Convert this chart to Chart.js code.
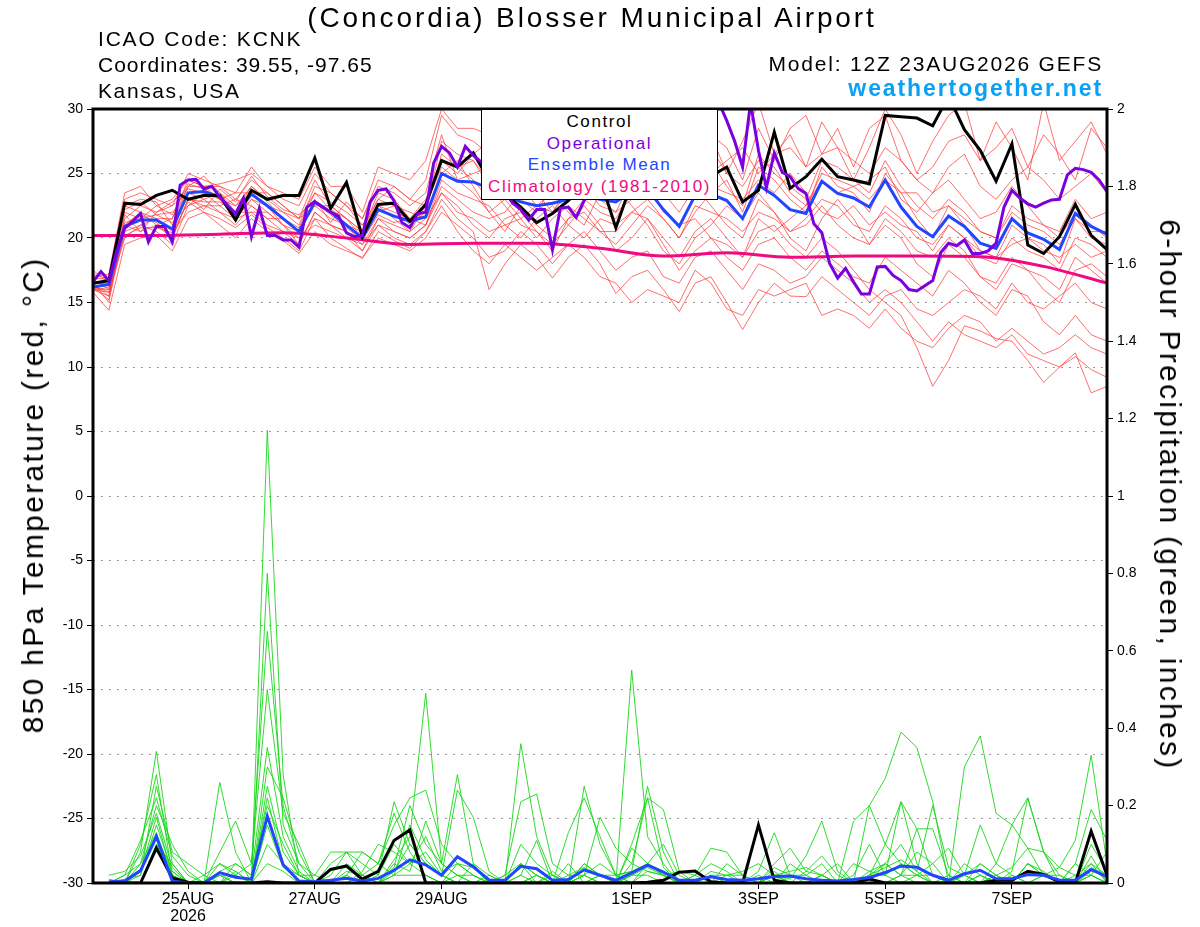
<!DOCTYPE html>
<html>
<head>
<meta charset="utf-8">
<title>KCNK GEFS 850 hPa temperature and precipitation</title>
<script src="https://cdn.jsdelivr.net/npm/chart.js"></script>
<style>
  html, body { margin: 0; padding: 0; background: #fff; }
  #wrap { position: relative; width: 1200px; height: 927px; font-family: "Liberation Sans", Arial, Helvetica, sans-serif; }
  #wrap canvas { position: absolute; left: 0; top: 0; }
  .t { position: absolute; white-space: nowrap; color: #000; }
  #title { left: 0; width: 1184px; text-align: center; top: 4px; font-size: 28px; line-height: 28px; letter-spacing: 2.9px; }
  .info { left: 98px; font-size: 21px; line-height: 21px; }
  .right { right: 97px; text-align: right; }
  #site { font-size: 23px; line-height: 23px; font-weight: bold; color: #0aa0f5; letter-spacing: 1.9px; }
  .axt { font-size: 30px; line-height: 30px; letter-spacing: 2.3px; transform: translate(-50%, -50%) rotate(-90deg); }
  #ytitle2 { transform: translate(-50%, -50%) rotate(90deg); }
  #legend { position: absolute; left: 481px; top: 109px; width: 235px; height: 88px; border: 1px solid #000;
            background: #fff; text-align: center; font-size: 17px; line-height: 21.5px; padding-top: 1px; letter-spacing: 1.6px; }
</style>
</head>
<body>
<div id="wrap">
  <canvas id="chart"></canvas>
  <div class="t" id="title">(Concordia) Blosser Municipal Airport</div>
  <div class="t info" style="top:28px; letter-spacing:1.8px">ICAO Code: KCNK</div>
  <div class="t info" style="top:54px; letter-spacing:1.0px">Coordinates: 39.55, -97.65</div>
  <div class="t info" style="top:80px; letter-spacing:1.6px">Kansas, USA</div>
  <div class="t info right" style="top:53px; left:auto; letter-spacing:1.8px">Model: 12Z 23AUG2026 GEFS</div>
  <div class="t right" id="site" style="top:77px">weathertogether.net</div>
  <div class="t axt" style="left:33px; top:495px">850 hPa Temperature (red, °C)</div>
  <div class="t axt" id="ytitle2" style="left:1170px; top:495px">6-hour Precipitation (green, inches)</div>
  <div id="legend">
    <div style="color:#000">Control</div>
    <div style="color:#7a00dd">Operational</div>
    <div style="color:#2046ff">Ensemble Mean</div>
    <div style="color:#ef0a80">Climatology (1981-2010)</div>
  </div>
</div>

<script>
/* ---------- TIME AXIS ---------- */
// hours after 12Z 23AUG2026
const tickHours = [36, 84, 132, 204, 252, 300, 348];
const tickText = [["25AUG", "2026"], "27AUG", "29AUG", "1SEP", "3SEP", "5SEP", "7SEP"];

/* ---------- 850 hPa TEMPERATURE (6-hourly from hour 0) ---------- */
const tempControl = [16.5,16.7,22.7,22.6,23.3,23.7,23.0,23.3, 23.3,21.4,23.7,23.0,23.3,23.3,26.2,22.3, 24.3,20.1,22.6,22.7,21.3,22.6,26.0,25.5, 26.6,24.5,23.4,22.4,21.2,21.9,22.9,24.2, 24.6,20.8,24.3,25.0,25.2,24.6,24.2,24.8, 25.5,22.8,23.7,28.2,23.85,24.75,26.1,24.75, 24.5,24.2,29.5,29.4,29.3,28.7,31.0,28.4, 26.8,24.4,27.3,19.45,18.8,20.1,22.6,20.2, 19.1];
const tempMean = [16.2,16.4,20.9,21.4,21.4,20.7,23.5,23.6, 23.2,21.8,23.4,22.5,21.5,20.5,22.8,22.0, 21.0,20.0,22.2,21.7,21.3,21.65,25.0,24.4, 24.35,23.85,23.3,22.8,22.5,22.7,23.0,23.3, 23.0,22.8,23.6,23.8,22.2,20.9,23.3,23.4, 22.9,21.5,24.1,23.3,22.2,21.9,24.4,23.45, 23.1,22.4,24.5,22.4,20.9,20.1,21.7,20.9, 19.6,19.2,21.5,20.4,19.9,19.1,21.9,20.9, 20.3];
// operational run is 3-hourly
const tempOper = [16.6,17.4,16.7,19.0,20.75,21.3,21.9,19.7, 20.9,20.9,19.7,24.1,24.5,24.55,23.8,24.0, 23.2,22.5,21.9,23.1,20.1,22.3,20.2,20.2, 19.85,19.85,19.3,22.4,22.8,22.4,22.0,21.7, 20.4,20.1,20.2,22.8,23.7,23.8,22.9,21.2, 20.8,21.9,22.0,25.8,27.1,26.6,25.5,27.1, 26.4,25.9,25.5,24.5,23.5,22.7,22.2,21.4, 22.2,22.2,19.1,22.3,22.4,21.6,22.9,23.8, 24.5,24.2,23.8,24.6,25.2,25.8,26.3,26.0, 26.8,27.5,28.0,28.8,30.3,29.6,30.4,30.5, 29.1,27.5,25.5,30.5,26.8,23.9,26.6,25.1, 24.75,23.85,23.45,21.1,20.4,18.0,16.9,17.65, 16.6,15.65,15.65,17.75,17.8,17.1,16.7,16.0, 15.9,16.3,16.7,18.85,19.6,19.4,19.85,18.8, 18.8,19.0,19.6,22.4,23.7,23.1,22.65,22.4, 22.7,22.95,23.0,24.9,25.4,25.3,25.1,24.5, 23.6];
// climatology read once a day
const climTemp = [20.2,20.2,20.3,20.4,20.0,19.5,19.6,19.6,19.2,18.6,18.85,18.5,18.6,18.6,18.55,17.8,16.5];

const ens01 = [16.8,16.0,22.0,21.5,22.5,21.8,24.2,23.8, 23.0,22.5,24.0,22.8,21.5,20.8,23.5,22.2, 21.5,20.5,23.0,22.5,21.0,22.0,26.5,25.5, 26.0,24.0,22.5,21.0,20.5,19.0,21.5,22.0, 20.5,19.5,21.0,22.5,21.5,20.0,22.0,23.5, 24.5,22.0,25.5,24.5,23.0,22.0,25.5,24.0, 23.5,22.0,25.0,23.5,21.5,20.0,22.5,21.0, 19.0,18.5,21.0,20.0,19.5,18.0,21.5,20.0, 19.5];
const ens02 = [16.2,15.2,20.5,21.0,20.5,19.5,22.5,23.0, 22.0,21.0,22.5,21.5,20.5,19.5,22.0,21.0, 20.0,19.0,21.0,20.5,20.0,21.0,24.0,23.0, 22.0,21.5,22.0,23.5,24.5,23.0,24.0,25.5, 24.0,23.5,25.0,26.5,24.5,23.0,25.5,26.0, 24.0,22.5,26.5,25.0,24.0,23.0,26.0,25.5, 24.5,23.5,26.0,24.0,22.5,21.5,23.0,22.0, 20.5,20.0,22.5,21.5,21.0,20.0,22.0,21.0, 20.0];
const ens03 = [15.8,14.4,19.5,20.0,20.2,19.0,21.5,22.0, 21.0,20.0,21.5,20.5,19.8,18.8,20.5,19.5, 19.0,18.5,20.0,19.5,19.0,20.0,22.0,21.0, 20.0,18.5,19.0,20.5,19.5,18.0,19.5,20.5, 19.0,17.5,18.5,19.0,17.0,16.5,18.5,19.0, 17.5,16.0,18.0,17.5,16.5,17.0,18.5,17.5, 16.5,15.0,16.0,15.0,13.5,12.0,13.5,12.5, 12.0,11.5,12.5,11.0,10.5,10.0,10.8,9.8, 9.2];
const ens04 = [16.0,15.5,21.0,20.5,21.0,20.0,23.0,22.5, 22.5,21.5,23.0,22.0,21.0,20.0,21.5,21.0, 20.5,19.5,21.5,21.0,20.5,21.5,23.5,22.5, 21.0,20.0,21.5,22.0,20.5,19.5,21.0,22.5, 21.0,19.0,20.0,21.5,20.0,18.5,20.5,21.5, 20.0,18.5,20.5,21.0,19.5,18.5,20.0,19.0, 17.5,16.0,15.0,14.0,11.5,8.5,10.5,13.2, 12.8,12.2,12.0,10.5,8.8,10.0,11.1,8.0, 8.5];
const ens05 = [17.2,16.8,23.0,23.5,23.0,22.5,25.0,24.5, 24.0,23.5,25.5,24.0,23.0,22.5,25.0,23.5, 22.5,21.5,24.5,24.0,23.0,24.5,29.5,28.0, 27.5,26.5,25.5,26.5,27.0,25.5,26.5,27.5, 26.0,25.0,26.0,27.0,28.0,27.5,29.5,28.0, 27.0,24.5,28.5,26.0,28.5,29.5,26.5,28.5, 25.5,28.5,29.5,26.0,24.5,25.5,27.5,28.0, 26.0,27.0,28.5,25.5,28.0,26.5,24.5,28.5, 27.0];
const ens06 = [16.5,16.5,22.5,22.0,21.0,21.5,24.0,24.8, 23.5,22.0,24.0,23.0,22.0,21.0,24.0,23.5, 22.5,21.0,22.5,21.5,20.5,22.5,25.5,24.5, 25.0,25.5,24.0,23.0,22.0,24.0,25.0,24.0, 22.5,22.0,24.5,25.0,23.5,22.0,24.0,22.5, 21.0,20.0,23.0,22.0,20.5,21.5,23.0,22.5, 21.0,20.5,22.5,21.5,20.0,19.5,21.0,20.0, 18.5,18.0,20.0,19.0,18.5,17.5,20.0,19.5, 18.5];
const ens07 = [16.3,15.8,20.0,21.0,21.5,20.5,22.0,22.5, 22.0,21.5,22.0,21.0,20.5,20.0,21.0,20.5, 20.0,19.5,21.0,20.0,19.5,20.5,23.0,21.5, 20.5,16.0,18.0,19.5,18.5,16.9,18.5,19.5, 18.0,15.7,17.0,17.5,16.0,14.3,16.5,17.0, 15.0,12.9,15.0,16.5,15.5,15.45,17.0,16.0, 15.0,14.0,15.5,16.0,14.5,14.0,15.0,16.0, 15.5,14.5,16.5,15.0,14.5,15.5,16.5,15.0, 14.5];
const ens08 = [17.0,17.2,23.5,24.0,22.5,23.0,24.5,24.0, 24.2,24.5,25.0,24.0,23.5,23.0,25.5,24.0, 24.0,22.0,25.5,25.0,24.5,26.0,30.0,28.5, 28.5,28.0,27.0,30.0,27.0,26.0,27.0,28.0, 25.5,24.5,25.5,26.5,27.5,29.0,30.0,28.0, 25.0,27.5,30.5,26.5,28.0,25.5,29.0,27.0, 24.5,27.0,30.0,28.0,25.0,27.5,29.5,30.5, 26.0,29.0,27.0,24.5,30.5,26.0,27.5,29.0, 26.5];
const ens09 = [15.9,16.2,21.5,22.5,22.0,22.5,23.5,23.0, 23.5,22.5,23.5,23.5,22.5,21.5,22.5,22.5, 21.5,20.0,22.0,22.5,22.0,21.5,25.0,26.0, 24.0,22.0,23.0,21.5,22.5,23.5,22.0,21.0, 23.5,24.0,22.5,21.0,19.0,18.0,20.0,21.0, 22.5,21.5,23.5,22.0,20.0,19.0,21.5,23.0, 21.5,19.5,21.0,20.0,18.0,17.0,19.5,18.5, 17.0,16.5,18.5,17.5,16.0,15.0,17.5,18.0, 17.0];
const ens10 = [16.6,15.0,21.8,20.5,22.0,22.8,23.8,23.5, 22.5,23.0,22.5,21.5,21.5,20.5,22.5,21.5, 21.0,20.5,23.5,23.0,21.5,22.0,27.5,26.5, 26.0,24.5,26.5,25.0,23.5,22.0,23.5,24.5, 23.0,22.0,23.0,24.0,22.0,21.0,21.5,20.0, 19.5,18.5,21.5,20.5,21.5,22.5,24.5,23.5, 24.0,24.5,25.5,23.0,22.0,23.5,24.5,23.0, 21.5,22.0,24.0,22.5,21.0,20.5,23.0,21.5, 22.0];
const ens11 = [17.5,16.5,22.5,23.0,22.8,21.0,24.0,24.0, 24.0,23.0,24.5,23.5,22.5,21.5,23.5,22.8, 22.0,21.0,23.0,24.0,23.0,22.5,26.0,25.0, 26.5,27.5,25.0,24.0,25.5,26.0,24.5,25.0, 27.0,26.0,25.0,24.0,25.5,26.5,24.5,25.0, 26.0,27.0,25.0,26.5,27.0,25.5,26.5,27.0, 26.0,25.0,27.0,26.0,24.5,23.5,25.5,26.5, 24.0,23.0,24.5,25.5,24.5,23.0,24.0,25.0, 23.5];
const ens12 = [16.4,15.5,20.8,21.8,21.2,20.0,23.0,22.8, 22.8,22.0,22.0,22.0,21.0,19.5,22.0,21.0, 20.5,19.0,21.5,20.5,20.0,21.0,23.5,22.0, 21.5,20.5,21.0,21.5,20.0,21.5,22.5,21.5, 20.5,20.5,22.0,21.5,19.5,17.5,19.0,20.0, 18.5,17.5,19.5,20.0,18.5,17.5,19.0,18.0, 17.0,16.5,18.5,17.5,16.5,15.5,17.5,16.5, 15.0,14.0,16.0,15.5,13.5,12.5,14.0,12.5, 12.0];
const ens13 = [16.9,16.8,21.0,22.0,21.5,21.5,24.5,24.0, 23.0,23.5,23.5,22.5,22.0,21.5,24.5,22.5, 21.5,20.5,22.5,22.0,21.5,23.0,26.0,25.5, 24.5,23.0,24.5,24.0,22.5,22.0,24.0,23.5, 24.5,25.0,26.5,25.5,24.0,23.5,26.0,27.0, 25.0,24.0,26.0,25.5,23.5,22.5,25.0,24.5, 24.0,23.0,24.5,23.5,23.5,22.0,22.5,21.5, 20.5,20.0,22.0,21.0,20.5,19.5,21.5,20.5, 20.5];
const ens14 = [16.0,15.8,21.2,21.5,21.8,21.2,22.5,23.5, 23.0,21.5,23.0,22.5,21.0,20.5,22.8,21.8, 20.8,19.8,21.8,21.2,21.5,21.0,24.5,23.5, 23.0,22.5,21.0,20.0,21.5,22.5,21.0,20.0, 21.5,21.0,22.0,23.0,21.5,20.0,22.5,22.0, 21.5,20.5,22.0,21.5,20.5,21.0,22.5,21.0, 20.0,19.5,21.5,20.5,19.0,18.5,20.0,19.0, 17.0,16.0,18.0,17.5,17.0,16.0,18.5,17.5, 16.5];
const ens15 = [16.7,16.3,22.2,22.8,21.8,22.0,23.2,22.2, 23.8,22.8,24.8,23.2,22.2,21.8,23.0,21.2, 22.8,21.5,24.0,23.5,22.5,23.5,28.0,24.5, 23.5,22.0,20.5,22.5,21.0,20.0,21.5,23.0, 22.0,21.5,23.5,24.5,23.0,24.0,25.0,24.0, 23.5,23.0,24.5,23.5,25.0,23.5,22.0,21.5, 22.5,21.0,22.0,21.0,20.5,19.0,21.0,20.0, 19.0,18.5,19.5,20.0,19.0,18.5,19.5,18.5, 19.0];
const ens16 = [16.1,16.0,20.2,20.8,20.8,20.4,22.8,22.0, 21.5,20.8,21.8,20.8,20.0,19.0,21.5,20.0, 19.2,18.4,20.5,19.8,19.2,20.5,22.5,20.5, 19.0,18.0,19.5,18.5,17.5,18.5,19.5,18.5, 17.0,16.5,15.0,16.0,15.5,15.0,17.5,16.5, 14.5,14.0,16.0,15.5,16.0,16.5,14.0,14.5, 14.0,13.0,14.5,13.0,12.0,11.5,13.0,14.0, 13.5,12.0,13.0,12.0,11.0,11.5,12.5,11.5, 11.0];

/* ---------- 6-HOUR PRECIPITATION (6-hourly from hour 6) ---------- */
const precipControl = [0,0,0,.09,.013,.002,0,0, 0,0,.003,0,0,0,.035,.044, .01,.03,.11,.137,0,0,0,0, 0,0,0,0,0,0,0,0, 0,0,.002,.007,.028,.031,.003,0, 0,.15,.007,0,0,0,0,0, .01,0,0,0,0,0,0,0, .007,.007,.03,.022,.003,0,.134,.02];
const precipMean = [.003,.005,.032,.12,.005,0,0,.027, .015,.01,.173,.047,.005,.003,.007,.012, .005,.012,.033,.06,.047,.02,.068,.042, .008,.007,.043,.037,.007,.009,.034,.02, .007,.026,.046,.028,.007,.007,.016,.009, .007,.011,.017,.018,.011,.007,.005,.009, .014,.027,.044,.041,.02,.007,.024,.033, .011,.011,.022,.02,.007,.007,.035,.016];

const pcp01 = [0,0,.08,.34,.05,0,0,.02, 0,0,1.17,.28,.02,0,0,.05, .02,0,.06,.12,.49,.05,.02,0, 0,0,.05,.02,0,0,.05,.02, 0,.55,.12,.05,0,0,.02,0, 0,0,.03,0,0,.02,0,0, .2,.27,.39,.35,.21,0,0,.02, 0,0,.05,.02,0,0,.1,.03];
const pcp02 = [.01,0,.1,.28,.02,0,0,.26, .08,0,.8,.15,.05,0,.02,.08, .05,.02,.21,.1,.05,.02,.24,.17, .03,0,.36,.12,.02,0,.25,.1, .02,.03,.25,.08,0,.02,.09,.08, .02,0,.02,.01,.07,.16,.03,0, 0,.05,.02,0,0,0,.3,.38, .18,.15,.22,.08,0,.05,.19,.11];
const pcp03 = [0,.02,.11,.22,.07,.02,0,.08, .16,.05,.65,.2,.05,.02,0,.02, .08,.05,.15,.22,.24,.1,.05,.02, 0,.02,.21,.23,.05,.02,.02,.17, .09,.05,.22,.19,.03,0,.02,.02, 0,.03,.13,.02,0,.02,0,.16, .2,.1,.21,.14,.02,0,.05,.02, 0,.03,.22,.08,.04,.11,.33,.05];
const pcp04 = [0,0,.05,.2,.1,.03,0,0, .05,.02,.2,.1,.02,0,0,0, .03,.1,.08,.05,.02,0,.05,.02, 0,0,0,.02,0,.13,.22,.12, .02,0,.05,.03,0,0,0,.05, .02,0,0,.05,.02,0,0,.02, .1,.02,0,.02,.05,.09,.02,.15, .05,.02,0,.02,0,0,.07,0];
const pcp05 = [.02,.03,.07,.18,.04,0,.02,.05, .03,0,.25,.08,.02,0,.05,.08, .02,0,.02,.15,.06,.02,0,.05, .02,0,.02,.11,0,.02,.04,.02, 0,.09,.05,.02,.03,.02,0,.02, .03,.05,.02,0,.03,.07,.02,0, .02,.04,.06,.03,.2,.04,.02,0, .05,.15,.09,.02,0,.05,.02,.08];
const pcp06 = [0,0,.03,.17,.02,0,0,.03, .05,.02,.35,.12,.03,0,0,.02, 0,.02,.1,.05,.12,.03,.05,.04, 0,0,.02,0,.02,0,.02,0, 0,.02,.04,.02,0,.02,.05,.03, 0,0,.05,.09,.03,.02,0,.05, .03,.02,.21,.05,0,0,.02,.05, .02,.04,.09,.08,.02,0,.05,.02];
const pcp07 = [0,.01,.02,.25,.08,.05,.02,0, 0,0,.3,.22,.08,0,0,0, 0,0,.04,.2,.1,.05,.28,.05, 0,0,.05,.02,0,.05,0,.02, 0,.1,.22,.04,0,0,0,0, 0,.02,0,0,0,.02,.05,0, 0,0,.02,.14,.14,.02,0,.02, 0,.02,0,0,0,.02,.02,0];
const pcp08 = [0,0,.02,.15,.03,0,0,0, .02,.05,.5,.18,.1,0,0,.03, .02,.05,.18,.08,.02,0,.02,0, 0,.02,.05,0,0,0,.02,.05, .02,0,.03,.02,0,0,.02,0, 0,0,.02,.03,.04,.02,0,0, .02,.1,.05,.02,0,0,.02,0, .02,0,.05,.03,0,0,.04,.02];
const pcp09 = [0,0,0,.1,.02,0,0,.02, 0,0,.22,.05,.02,0,0,0, 0,0,.03,.1,.05,.02,0,0, 0,0,0,0,0,0,.02,0, 0,.05,.03,.02,0,0,0,0, 0,0,0,0,0,0,0,0, .02,.05,.1,.03,0,0,0,0, 0,0,0,0,0,0,.02,0];
const pcp10 = [0,.02,.05,.13,.02,0,0,.02, .02,0,.15,.04,.02,.02,.08,.08, .08,.05,.02,.05,.08,.02,0,0, .02,0,0,.02,0,0,0,.02, 0,.02,.05,.02,0,0,0,0, 0,0,.02,0,0,0,0,0, .02,.02,.05,.02,0,.02,0,0, .02,0,0,.02,.02,0,.03,.02];
const pcp11 = [0,0,.03,.12,.03,0,0,.05, .02,0,.1,.05,0,0,0,0, .02,0,.05,.03,.16,.05,.02,.02, 0,0,.1,.05,.02,0,.05,.02, .02,.03,.05,.1,.02,0,.03,.02, .02,0,.04,.02,.02,.05,0,0, .03,.05,.02,.08,.05,0,0,.05, .02,0,.05,.02,.04,.02,.05,0];
const pcp12 = [0,0,0,.1,.05,0,0,0, .03,0,.05,.03,0,0,0,0, 0,0,.02,.02,.02,0,0,0, 0,0,0,0,.03,0,0,0, 0,.02,.02,0,0,0,0,0, 0,0,.02,0,0,0,0,0, 0,0,.02,.02,.02,0,0,0, 0,0,0,0,0,0,.02,0];

const tempMembers = [ens01, ens02, ens03, ens04, ens05, ens06, ens07, ens08, ens09, ens10, ens11, ens12, ens13, ens14, ens15, ens16];
const precipMembers = [pcp01, pcp02, pcp03, pcp04, pcp05, pcp06, pcp07, pcp08, pcp09, pcp10, pcp11, pcp12];

const RED = "rgba(255,55,55,0.72)";
const GREEN = "rgba(25,215,25,0.9)";
const PINK = "#ef0a80";
const BLUE = "#2046ff";
const PURPLE = "#7a00dd";

/* ---------- BUILD ---------- */
// pair each value with its forecast hour
function xy(vals, startHour, stepHours) {
  return vals.map((v, i) => ({ x: startHour + i * stepHours, y: v }));
}

function line(data, axis, color, width, order) {
  return { data, yAxisID: axis, borderColor: color, borderWidth: width, pointRadius: 0, fill: false, tension: 0, order };
}

const datasets = [];
tempMembers.forEach(m => datasets.push(line(xy(m, 0, 6), "y", RED, 1, 6)));
precipMembers.forEach(m => datasets.push(line(xy(m, 6, 6), "y2", GREEN, 1, 5)));

const clim = line(xy(climTemp, 0, 24), "y", PINK, 3, 4);
clim.cubicInterpolationMode = "monotone";
datasets.push(clim);

datasets.push(line(xy(precipMean, 6, 6), "y2", BLUE, 3, 3));
datasets.push(line(xy(precipControl, 6, 6), "y2", "#000", 3, 3));
datasets.push(line(xy(tempMean, 0, 6), "y", BLUE, 3, 2));
datasets.push(line(xy(tempControl, 0, 6), "y", "#000", 3, 1));
datasets.push(line(xy(tempOper, 0, 3), "y", PURPLE, 3, 0));

// black frame round the plot area
const framePlugin = {
  id: "frame",
  afterDatasetsDraw(chart) {
    const { ctx, chartArea: a } = chart;
    ctx.save();
    ctx.strokeStyle = "#000";
    ctx.lineWidth = 3;
    ctx.strokeRect(a.left, a.top, a.right - a.left, a.bottom - a.top);
    ctx.restore();
  }
};

Chart.defaults.font.family = '"Liberation Sans", Arial, Helvetica, sans-serif';
Chart.defaults.color = "#000";

new Chart(document.getElementById("chart"), {
  type: "line",
  data: { datasets },
  plugins: [framePlugin],
  options: {
    responsive: true,
    maintainAspectRatio: false,
    animation: false,
    layout: { padding: { left: 53, right: 43, top: 109, bottom: 0 } },
    plugins: { legend: { display: false }, tooltip: { enabled: false }, title: { display: false } },
    scales: {
      x: {
        type: "linear",
        min: 0,
        max: 384,
        afterBuildTicks: s => { s.ticks = tickHours.map(v => ({ value: v })); },
        afterFit: s => { s.height = 44; },
        grid: { drawOnChartArea: false, drawTicks: true, tickLength: 6, tickColor: "#000", tickWidth: 1 },
        border: { display: false },
        ticks: {
          autoSkip: false, maxRotation: 0, padding: 2, color: "#000",
          font: { size: 16, lineHeight: 1.05 },
          callback: (v, i) => tickText[i]
        }
      },
      y: {
        position: "left",
        min: -30,
        max: 30,
        afterFit: s => { s.width = 40; },
        ticks: { stepSize: 5, color: "#000", font: { size: 14 }, padding: 4 },
        grid: { color: "#9a9a9a", lineWidth: 1, tickColor: "#000", tickLength: 6, tickWidth: 1, tickBorderDash: [] },
        border: { display: false, dash: [2, 6] }
      },
      y2: {
        position: "right",
        min: 0,
        max: 2,
        afterFit: s => { s.width = 50; },
        ticks: { stepSize: 0.2, color: "#000", font: { size: 14 }, padding: 4, callback: v => String(+v.toFixed(1)) },
        grid: { drawOnChartArea: false, tickColor: "#000", tickLength: 6, tickWidth: 1 },
        border: { display: false }
      }
    }
  }
});
</script>
</body>
</html>
